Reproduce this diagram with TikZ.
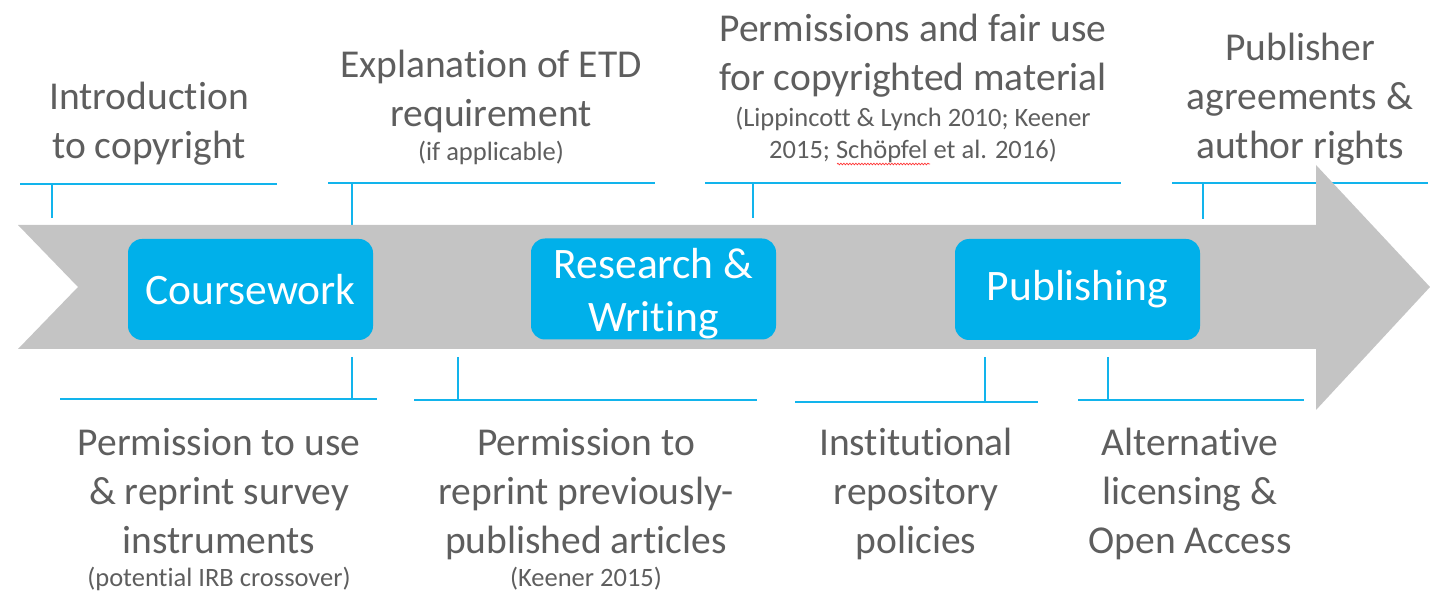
\documentclass[tikz,border=0pt]{standalone}
\usepackage{fontspec}
\setmainfont{Carlito}[Ligatures={NoCommon,NoContextual}]
\usetikzlibrary{decorations.pathmorphing}
\definecolor{arrowgray}{HTML}{C4C4C4}
\definecolor{boxblue}{HTML}{00B0EA}
\definecolor{lineblue}{HTML}{12B4EC}
\definecolor{txtgray}{HTML}{5E5E5E}
\begin{document}
\begin{tikzpicture}[x=1pt,y=-1pt,
  lbl/.style={text=txtgray, align=center, font=\fontsize{39.5}{49}\selectfont, inner sep=0pt, anchor=base},
  note/.style={text=txtgray, align=center, font=\fontsize{26.5}{32}\selectfont, inner sep=0pt, anchor=base},
  stage/.style={fill=boxblue, rounded corners=14pt, text=white, minimum width=245pt, minimum height=101pt, font=\fontsize{43.5}{53}\selectfont, align=center, inner sep=0pt},
  bracket/.style={draw=lineblue, line width=2.4pt},
  timeline/.style={fill=arrowgray}]
\useasboundingbox (0,0) rectangle (1430,593);

% top brackets
\coordinate (t1a) at (20,184);  \coordinate (t1b) at (277,184);
\coordinate (t1s) at (52,184);  \coordinate (t1e) at (52,218);
\coordinate (t2a) at (328,183); \coordinate (t2b) at (655,183);
\coordinate (t2s) at (352,183); \coordinate (t2e) at (352,225);
\coordinate (t3a) at (705,183); \coordinate (t3b) at (1121,183);
\coordinate (t3s) at (753,183); \coordinate (t3e) at (753,218);
\coordinate (t4a) at (1172,183); \coordinate (t4b) at (1428,183);
\coordinate (t4s) at (1203,183); \coordinate (t4e) at (1203,219);
\draw[bracket] (t1a) -- (t1b); \draw[bracket] (t1s) -- (t1e);
\draw[bracket] (t2a) -- (t2b); \draw[bracket] (t2s) -- (t2e);
\draw[bracket] (t3a) -- (t3b); \draw[bracket] (t3s) -- (t3e);
\draw[bracket] (t4a) -- (t4b); \draw[bracket] (t4s) -- (t4e);

% bottom brackets
\coordinate (b1a) at (60,399);  \coordinate (b1b) at (377,399);
\coordinate (b1s) at (352,357); \coordinate (b1e) at (352,399);
\coordinate (b2a) at (414,400); \coordinate (b2b) at (757,400);
\coordinate (b2s) at (458,357); \coordinate (b2e) at (458,400);
\coordinate (b3a) at (795,402); \coordinate (b3b) at (1038,402);
\coordinate (b3s) at (985,357); \coordinate (b3e) at (985,402);
\coordinate (b4a) at (1078,400); \coordinate (b4b) at (1304,400);
\coordinate (b4s) at (1108,357); \coordinate (b4e) at (1108,400);
\draw[bracket] (b1a) -- (b1b); \draw[bracket] (b1s) -- (b1e);
\draw[bracket] (b2a) -- (b2b); \draw[bracket] (b2s) -- (b2e);
\draw[bracket] (b3a) -- (b3b); \draw[bracket] (b3s) -- (b3e);
\draw[bracket] (b4a) -- (b4b); \draw[bracket] (b4s) -- (b4e);

% timeline arrow
\fill[timeline] (18,225) -- (1316,225) -- (1316,165) -- (1430,287) -- (1316,410)
  -- (1316,349) -- (18,349) -- (78,287) -- cycle;

% stages
\node[stage] (course) at (250.5,289.5) {Coursework};
\node[stage] (research) at (653.5,289) {};
\node[text=white, font=\fontsize{43.5}{53}\selectfont, align=center, inner sep=0pt, anchor=base] (researchtxt) at (653.5,332) {Research \&\\Writing};
\node[stage] (publish) at (1077.5,289.5) {Publishing};

% top labels
\node[lbl] (intro) at (149,159) {Introduction\\to copyright};
\node[lbl] (etd) at (491,127) {Explanation of ETD\\requirement};
\node[note] (etdnote) at (491,161) {(if applicable)};
\node[lbl] (perm) at (913,91) {Permissions and fair use\\for copyrighted material};
\node[note] (permnote) at (913,159) {(Lippincott \& Lynch 2010; Keener\\2015; Schöpfel et al. 2016)};
\node[lbl] (pub) at (1300,159) {Publisher\\agreements \&\\author rights};

% bottom labels
\node[lbl] (survey) at (219,553) {Permission to use\\\& reprint survey\\instruments};
\node[note] (surveynote) at (219,586) {(potential IRB crossover)};
\node[lbl] (articles) at (586,553) {Permission to\\reprint previously-\\published articles};
\node[note] (articlesnote) at (586,586) {(Keener 2015)};
\node[lbl] (repo) at (916,553) {Institutional\\repository\\policies};
\node[lbl] (alt) at (1190,553) {Alternative\\licensing \&\\Open Access};

% spell-check underline
\coordinate (sq1) at (837,164); \coordinate (sq2) at (930,164);
\draw[red!80, line width=0.7pt, decorate, decoration={snake, amplitude=0.8pt, segment length=3pt}] (sq1) -- (sq2);
\end{tikzpicture}
\end{document}
